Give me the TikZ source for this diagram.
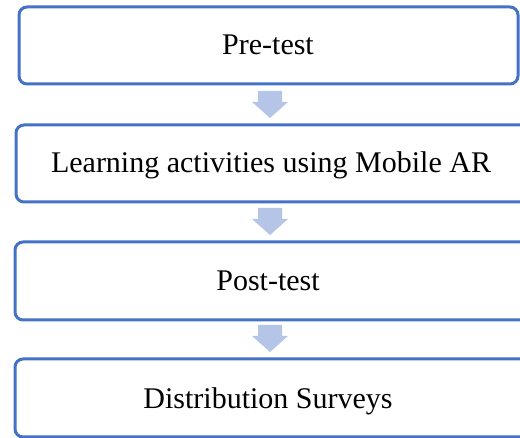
\documentclass[tikz,border=0pt]{standalone}
\usepackage{fontspec}
\setmainfont{Liberation Serif}
\definecolor{boxblue}{RGB}{68,114,196}
\definecolor{arrowblue}{RGB}{180,197,231}
\begin{document}
\begin{tikzpicture}[x=1pt,y=-1pt,
  stagebox/.style={draw=boxblue,line width=3pt,rounded corners=8pt,fill=white},
  label/.style={font=\fontsize{30}{34}\selectfont,anchor=center,text height=21pt,text depth=6pt,inner sep=0pt},
  downarrow/.style={fill=arrowblue,draw=none}]
\useasboundingbox (0,0) rectangle (520,438);
\draw[stagebox] (19,7) rectangle (518,84);
\draw[stagebox] (16,125) rectangle (530,202);
\draw[stagebox] (15,242) rectangle (530,320);
\draw[stagebox] (15,359) rectangle (530,437);
\node[label] (t1) at (268,47.5) {Pre-test};
\node[label] (t2) at (271,165.5) {Learning activities using Mobile AR};
\node[label] (t3) at (268,283) {Post-test};
\node[label] (t4) at (268,401) {Distribution Surveys};
\coordinate (a1) at (270,91);
\coordinate (a2) at (270,208);
\coordinate (a3) at (270,325);
\foreach \c in {a1,a2,a3}{
  \fill[downarrow] ([xshift=-12pt]\c) -- ([xshift=12pt]\c) -- ([xshift=12pt,yshift=-11pt]\c) -- ([xshift=18pt,yshift=-11pt]\c) -- ([yshift=-27pt]\c) -- ([xshift=-18pt,yshift=-11pt]\c) -- ([xshift=-12pt,yshift=-11pt]\c) -- cycle;
}
\end{tikzpicture}
\end{document}
